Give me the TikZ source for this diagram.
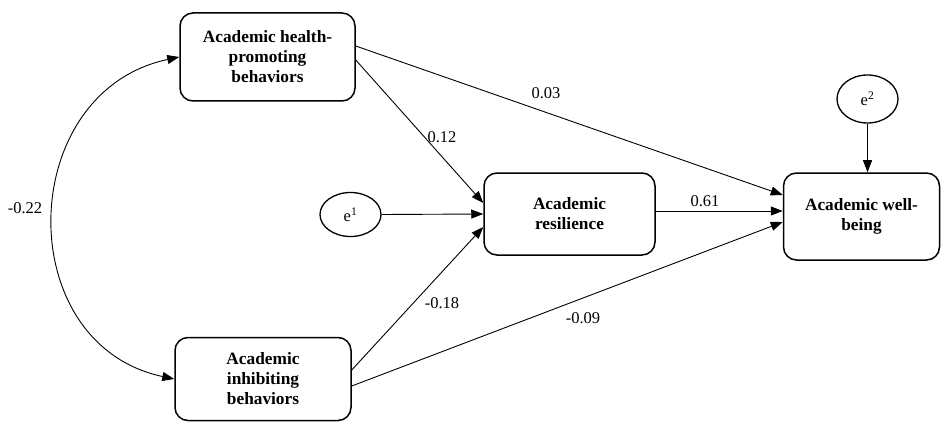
\documentclass[tikz,border=0pt]{standalone}
\usepackage{fontspec}
\setmainfont{Liberation Serif}
\usetikzlibrary{arrows.meta,shapes.geometric}
\begin{document}
\begin{tikzpicture}[x=1pt,y=-1pt,
  varbox/.style={draw,line width=1.5pt,rounded corners=13pt,align=center,inner sep=0pt,
    font=\fontsize{17.3}{20}\selectfont\bfseries},
  errnode/.style={draw,line width=1.3pt,ellipse,inner sep=0pt,minimum width=61pt,minimum height=44pt,
    font=\fontsize{16.5}{20}\selectfont},
  path/.style={line width=0.9pt,-{Triangle[length=12pt,width=9pt]}},
  coef/.style={font=\fontsize{16.5}{20}\selectfont,inner sep=0pt}]
\useasboundingbox (0,0) rectangle (941,422);
\node[varbox,minimum width=175pt,minimum height=88pt] (HPB) at (267.5,57) {Academic health-\\promoting\\behaviors};
\node[varbox,minimum width=176pt,minimum height=83pt] (AIB) at (263,379) {Academic\\inhibiting\\behaviors};
\node[varbox,minimum width=171pt,minimum height=82pt] (AR) at (569.5,214) {Academic\\resilience};
\node[varbox,minimum width=156pt,minimum height=87pt] (AWB) at (861.5,216.5) {Academic well-\\being};
\node[errnode] (e1) at (350.5,214.5) {e\textsuperscript{1}};
\node[errnode,minimum height=48pt] (e2) at (867.5,99) {e\textsuperscript{2}};
\draw[path] ([yshift=11pt]HPB.east) -- ([yshift=21.5pt]AWB.west);
\draw[path] ([yshift=-3pt]HPB.east) -- ([yshift=11pt]AR.west);
\draw[path] (e1.east) -- (AR.west);
\draw[path] ([yshift=9pt]AIB.east) -- ([yshift=-13pt]AR.west);
\draw[path] ([yshift=-7pt]AIB.east) -- ([yshift=-5.5pt]AWB.west);
\draw[path] ([yshift=3pt]AR.east) -- ([yshift=5.5pt]AWB.west);
\draw[path] (e2.south) -- (e2.south |- AWB.north);
\draw[line width=0.9pt,{Triangle[length=12pt,width=9pt]}-{Triangle[length=12pt,width=9pt]}]
  (AIB.west) to[out=168,in=192,looseness=1.33] (HPB.west);
\node[coef] (c1) at (546,93) {0.03};
\node[coef] (c2) at (442,137) {0.12};
\node[coef] (c3) at (442,303) {-0.18};
\node[coef] (c4) at (583,318) {-0.09};
\node[coef] (c5) at (705,201) {0.61};
\node[coef] (c6) at (25,208) {-0.22};
\end{tikzpicture}
\end{document}
